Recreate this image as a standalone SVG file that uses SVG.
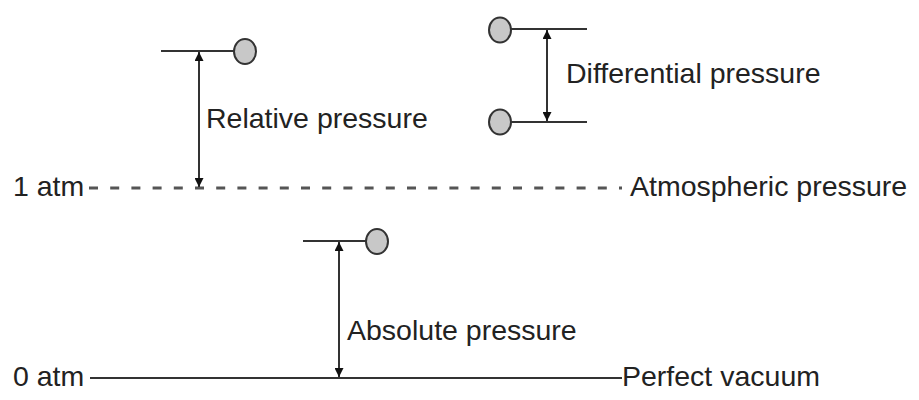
<svg xmlns="http://www.w3.org/2000/svg" width="919" height="400" viewBox="0 0 919 400">
<defs>
<style>
.ln{stroke:#333;stroke-width:2;fill:none}
.dash{stroke:#555;stroke-width:3;stroke-dasharray:9 12.2;fill:none}
.gauge{fill:#c8c8c8;stroke:#333;stroke-width:2}
.arr{stroke:#333;stroke-width:2;fill:none;marker-start:url(#ah);marker-end:url(#ah)}
text{font-family:"Liberation Sans",Arial,sans-serif;font-size:28.5px;fill:#222}
</style>
<marker id="ah" viewBox="0 0 10 10" refX="10" refY="5" markerWidth="5" markerHeight="4.5" orient="auto-start-reverse" markerUnits="strokeWidth">
<path d="M0,0 L10,5 L0,10 z" fill="#111"/>
</marker>
</defs>
<rect width="919" height="400" fill="#fff"/>
<g id="levels">
<g id="atm1">
<text x="13" y="196">1 atm</text>
<line class="dash" x1="89" y1="188" x2="622" y2="188"/>
<text x="630" y="196">Atmospheric pressure</text>
</g>
<g id="atm0">
<text x="13" y="386">0 atm</text>
<line class="ln" x1="90" y1="378" x2="622" y2="378"/>
<text x="622" y="386">Perfect vacuum</text>
</g>
</g>
<g id="relative">
<line class="ln" x1="161" y1="51" x2="234" y2="51"/>
<ellipse class="gauge" cx="245" cy="51.5" rx="11" ry="12.5"/>
<text x="206" y="128">Relative pressure</text>
</g>
<g id="differential">
<ellipse class="gauge" cx="500" cy="30" rx="11" ry="12.5"/>
<line class="ln" x1="511" y1="29" x2="587" y2="29"/>
<ellipse class="gauge" cx="500" cy="122" rx="11" ry="12.5"/>
<line class="ln" x1="511" y1="122" x2="587" y2="122"/>
<text x="566" y="83">Differential pressure</text>
</g>
<g id="absolute">
<line class="ln" x1="303" y1="241" x2="366" y2="241"/>
<ellipse class="gauge" cx="377" cy="241.5" rx="11" ry="12.5"/>
<text x="347" y="340">Absolute pressure</text>
</g>
<g id="connectors">
<line class="arr" x1="199" y1="52" x2="199" y2="187"/>
<line class="arr" x1="547" y1="30" x2="547" y2="121"/>
<line class="arr" x1="339" y1="242" x2="339" y2="377"/>
</g>
</svg>
